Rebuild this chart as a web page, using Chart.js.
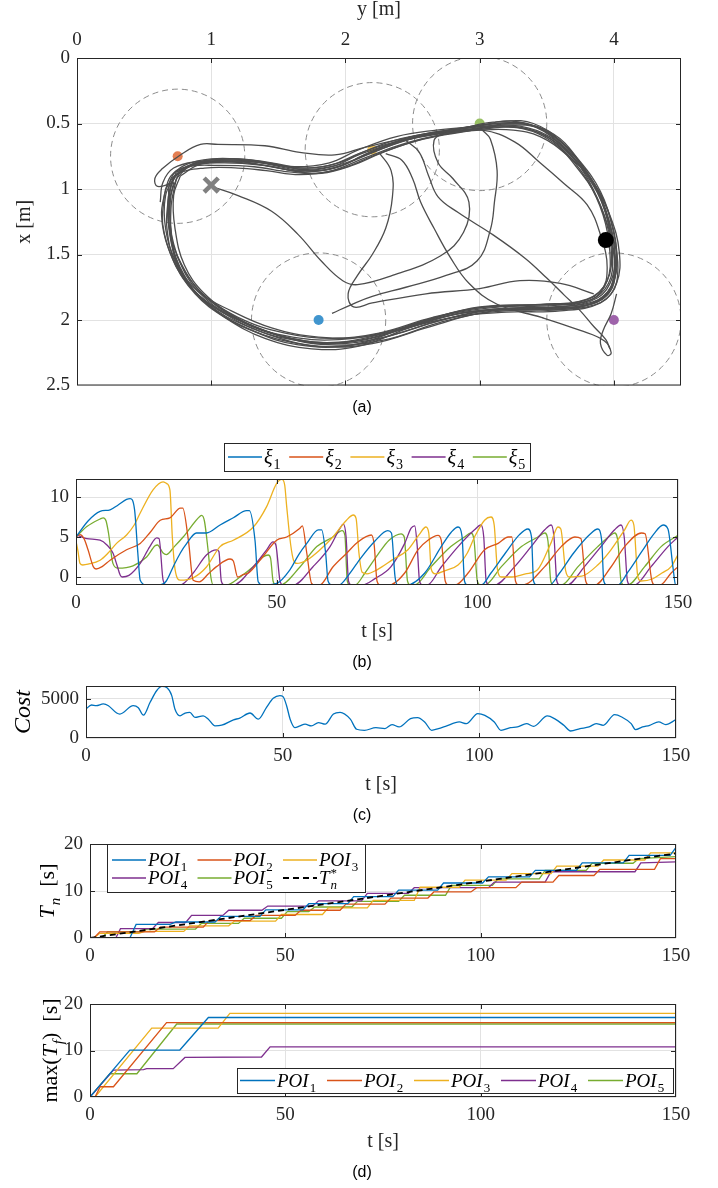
<!DOCTYPE html>
<html>
<head>
<meta charset="utf-8">
<script src="https://cdn.jsdelivr.net/npm/chart.js@4.4.1/dist/chart.umd.min.js"></script>
<style>
  body { margin: 0; background: #fff; }
  #fig { position: relative; width: 718px; height: 1188px; }
  canvas { position: absolute; left: 0; }
  .tag { position: absolute; font: 16px "Liberation Sans", Arial, sans-serif; color: #000; transform: translate(-50%, -50%); }
</style>
</head>
<body>
<div id="fig">
  <canvas id="track" width="718" height="400" style="top:0"></canvas>
  <div class="tag" style="left:362px;top:407px">(a)</div>
  <canvas id="xi" width="718" height="220" style="top:440px"></canvas>
  <div class="tag" style="left:362px;top:662px">(b)</div>
  <canvas id="cost" width="718" height="150" style="top:660px"></canvas>
  <div class="tag" style="left:362px;top:815px">(c)</div>
  <canvas id="tn" width="718" height="140" style="top:830px"></canvas>
  <canvas id="tf" width="718" height="165" style="top:990px"></canvas>
  <div class="tag" style="left:362px;top:1172px">(d)</div>
</div>
<script>
const SERIF = '"Liberation Serif", "Times New Roman", serif';
const LINE_COLORS = ['#0072BD', '#D95319', '#EDB120', '#7E2F8E', '#77AC30'];
const DOT_COLORS = ['#4095CE', '#E37E52', '#F1C458', '#9E63AA', '#99C164'];

// tick values for every axis
const arenaYTicks = [0, 1, 2, 3, 4];
const arenaXTicks = [0, 0.5, 1, 1.5, 2, 2.5];
const timeTicks = [0, 50, 100, 150];
const xiTicks = [0, 5, 10];
const costTicks = [0, 5000];
const revisitTicks = [0, 10, 20];

// ---- (a) arena: every pair is [y (m), x (m)] ----
const poiY = [1.8, 0.75, 2.2, 4.0, 3.0];
const poiX = [2.0, 0.75, 0.7, 2.0, 0.5];
const poiRadius = 0.5;
const startPoint = [1.0, 0.97];
const robotPoint = [3.94, 1.39];

const lap1 = [[0.62,1.1],[0.64,0.95],[0.72,0.84],[0.9,0.79],[1.2,0.77],[1.45,0.8],[1.7,0.84],[1.95,0.8],[2.15,0.71],[2.45,0.62],[2.75,0.56],[3.05,0.52],[3.3,0.52],[3.52,0.6],[3.7,0.76],[3.86,0.98],[3.96,1.25],[4.01,1.52],[3.98,1.74],[3.85,1.86],[3.55,1.9],[3.1,1.92],[2.7,2.0],[2.3,2.1],[1.95,2.17],[1.6,2.14],[1.25,2.02],[0.95,1.85],[0.78,1.65],[0.7,1.4],[0.68,1.15],[0.72,0.95]];
const lap2 = [[0.72,0.95],[0.6,0.98],[0.58,0.92],[0.63,0.85],[0.77,0.74],[0.92,0.66],[1.05,0.66],[1.4,0.67],[1.66,0.72],[1.92,0.74],[2.15,0.68],[2.5,0.6],[2.85,0.54],[3.1,0.49],[3.35,0.5],[3.58,0.62],[3.75,0.8],[3.9,1.05],[3.99,1.35],[4.03,1.6],[3.98,1.8],[3.8,1.9],[3.4,1.92],[3.0,1.95],[2.6,2.06],[2.2,2.18],[1.8,2.2],[1.4,2.1],[1.05,1.92],[0.82,1.72],[0.68,1.45],[0.63,1.2],[0.66,1.0]];
const lap3 = [[0.66,1.0],[0.74,0.89],[0.95,0.84],[1.2,0.84],[1.41,0.86],[1.66,0.89],[1.9,0.86],[2.15,0.76],[2.45,0.65],[2.75,0.58],[3.05,0.54],[3.28,0.53],[3.5,0.6],[3.68,0.75],[3.85,0.96],[3.95,1.22],[3.99,1.5],[3.96,1.72],[3.82,1.85],[3.5,1.88],[3.0,1.9],[2.6,2.0],[2.2,2.12],[1.8,2.13],[1.45,2.06],[1.15,1.93],[0.9,1.78],[0.74,1.56],[0.66,1.3],[0.66,1.05],[0.73,0.9]];
const lap4 = [[0.73,0.9],[0.85,0.82],[1.1,0.8],[1.4,0.82],[1.65,0.86],[1.9,0.83],[2.12,0.73],[2.4,0.64],[2.7,0.58],[3.0,0.55],[3.25,0.55],[3.45,0.6],[3.65,0.74],[3.84,0.94],[3.97,1.2],[4.04,1.48],[4.02,1.72],[3.9,1.87],[3.6,1.93],[3.2,1.94],[2.8,1.98],[2.4,2.1],[2.0,2.2],[1.6,2.17],[1.2,2.03],[0.92,1.83],[0.76,1.6],[0.7,1.32],[0.7,1.05],[0.76,0.88]];
const lap5 = [[0.76,0.88],[0.88,0.8],[1.15,0.77],[1.42,0.81],[1.68,0.86],[1.92,0.84],[2.14,0.74],[2.42,0.63],[2.72,0.57],[3.02,0.53],[3.22,0.5],[3.42,0.53],[3.62,0.68],[3.8,0.9],[3.93,1.16],[3.98,1.45],[3.95,1.7],[3.8,1.84],[3.45,1.88],[3.05,1.9],[2.65,1.98],[2.25,2.1],[1.9,2.14],[1.55,2.1],[1.2,1.98],[0.95,1.8],[0.8,1.58],[0.73,1.3],[0.72,1.05],[0.77,0.9]];
const lap6 = [[0.77,0.9],[0.92,0.81],[1.2,0.79],[1.45,0.83],[1.7,0.87],[1.95,0.83],[2.18,0.72],[2.46,0.61],[2.76,0.55],[3.04,0.51],[3.3,0.5],[3.55,0.58],[3.74,0.78],[3.9,1.02],[3.99,1.3],[4.02,1.55],[3.97,1.78],[3.83,1.88],[3.5,1.91],[3.1,1.93],[2.7,2.02],[2.3,2.15],[1.9,2.19],[1.5,2.12],[1.15,1.97],[0.9,1.78],[0.75,1.52],[0.68,1.25],[0.69,1.02],[0.74,0.87]];
const lap7 = [[0.74,0.87],[0.9,0.8],[1.18,0.78],[1.43,0.8],[1.68,0.85],[1.93,0.82],[2.16,0.74],[2.44,0.63],[2.74,0.57],[3.02,0.55],[3.26,0.64],[3.45,0.8],[3.63,0.96],[3.8,1.12],[3.9,1.35],[3.95,1.6],[3.9,1.78],[3.7,1.87],[3.3,1.89],[2.9,1.92],[2.5,2.04],[2.1,2.16],[1.7,2.16],[1.35,2.06],[1.05,1.9],[0.85,1.7],[0.72,1.42],[0.7,1.15],[0.74,0.92]];
const lap8 = [[0.74,0.92],[0.84,0.83],[1.1,0.78],[1.38,0.8],[1.62,0.83],[1.88,0.8],[2.1,0.7],[2.38,0.6],[2.68,0.55],[2.98,0.52],[3.2,0.48],[3.4,0.5],[3.6,0.63],[3.78,0.85],[3.92,1.12],[4.0,1.42],[3.99,1.67],[3.88,1.83],[3.6,1.9],[3.2,1.91],[2.8,1.96],[2.4,2.08],[2.0,2.17],[1.6,2.15],[1.25,2.04],[0.98,1.88],[0.8,1.66],[0.7,1.38],[0.68,1.1]];
const lap9 = [[0.68,1.1],[0.7,0.92],[0.8,0.82],[1.0,0.77],[1.3,0.78],[1.55,0.83],[1.8,0.86],[2.02,0.8],[2.25,0.7],[2.55,0.6],[2.85,0.54],[3.12,0.5],[3.38,0.51],[3.6,0.65],[3.78,0.88],[3.91,1.15],[3.99,1.42],[4.0,1.65],[3.93,1.82],[3.7,1.9],[3.3,1.91],[2.9,1.94],[2.5,2.05],[2.1,2.2],[1.75,2.22],[1.4,2.14],[1.1,1.98],[0.88,1.8],[0.72,1.55],[0.64,1.28],[0.65,1.05]];
const lap10 = [[0.65,1.05],[0.7,0.9],[0.82,0.83],[1.05,0.82],[1.32,0.83],[1.58,0.87],[1.82,0.88],[2.05,0.82],[2.28,0.72],[2.58,0.62],[2.9,0.56],[3.15,0.52],[3.42,0.56],[3.62,0.7],[3.8,0.93],[3.92,1.2],[3.97,1.48],[3.95,1.7],[3.84,1.84],[3.55,1.89],[3.15,1.9],[2.75,1.96],[2.35,2.08],[1.95,2.15],[1.55,2.12],[1.2,2.0],[0.92,1.82],[0.74,1.58],[0.67,1.3],[0.68,1.06]];
const lap11 = [[0.68,1.06],[0.73,0.9],[0.86,0.81],[1.12,0.79],[1.4,0.8],[1.64,0.84],[1.88,0.82],[2.1,0.73],[2.36,0.63],[2.64,0.57],[2.95,0.53],[3.2,0.51],[3.46,0.54],[3.66,0.7],[3.83,0.92],[3.96,1.18],[4.02,1.46],[4.0,1.7],[3.88,1.85],[3.62,1.92],[3.25,1.92],[2.85,1.95],[2.45,2.06],[2.05,2.19],[1.65,2.19],[1.3,2.08],[1.02,1.92],[0.83,1.72],[0.72,1.48],[0.69,1.2]];
const lap12 = [[0.69,1.2],[0.7,0.98],[0.78,0.86],[0.95,0.8],[1.25,0.8],[1.5,0.84],[1.75,0.88],[1.98,0.84],[2.2,0.75],[2.5,0.64],[2.8,0.57],[3.08,0.53],[3.32,0.54],[3.54,0.64],[3.72,0.83],[3.88,1.08],[3.97,1.36],[4.01,1.62],[3.96,1.8],[3.78,1.89],[3.45,1.92],[3.05,1.93],[2.65,2.02],[2.25,2.14],[1.85,2.18],[1.45,2.1],[1.12,1.94],[0.88,1.74],[0.74,1.5]];
const cross1 = [[1.0,0.98],[1.2,1.05],[1.45,1.17],[1.65,1.35],[1.82,1.55],[1.98,1.7],[2.09,1.73],[2.35,1.66],[2.71,1.51],[2.88,1.33],[2.92,1.1],[2.8,0.92],[2.69,0.8],[2.66,0.63],[2.75,0.56]];
const cross2 = [[3.02,0.55],[3.08,0.62],[3.13,0.86],[3.11,1.1],[3.08,1.31],[2.98,1.55],[2.75,1.66],[2.45,1.75],[2.2,1.82],[2.05,1.88],[1.9,1.95]];
const cross3 = [[2.3,0.73],[2.42,0.78],[2.5,0.92],[2.56,1.1],[2.66,1.3],[2.78,1.52],[2.92,1.72],[3.13,1.88],[3.46,1.98],[3.75,2.08],[3.93,2.16],[3.98,2.25],[3.95,2.27],[3.9,2.18],[3.92,2.08],[3.98,1.95],[4.02,1.8]];
const cross4 = [[2.45,0.63],[2.55,0.72],[2.62,0.9],[2.69,1.06],[2.84,1.18],[3.1,1.35],[3.34,1.53],[3.5,1.68],[3.63,1.81],[3.75,1.93],[3.85,2.05],[3.94,2.15],[3.97,2.22]];
const cross5 = [[2.25,0.72],[2.34,0.86],[2.35,1.06],[2.3,1.3],[2.2,1.5],[2.09,1.66],[2.02,1.8],[2.06,1.9],[2.2,1.87],[2.6,1.8],[3.0,1.76],[3.3,1.7],[3.6,1.72],[3.85,1.8]];
const trackPaths = [lap1, lap2, lap3, lap4, lap5, lap6, lap7, lap8, lap9, lap10, lap11, lap12, cross1, cross2, cross3, cross4, cross5];

// ---- (b) xi_i over time, pairs are [t (s), value] ----
const xi1 = [[0,5.0],[3,7],[6,8.2],[8.5,8.4],[10.5,9.0],[12.6,9.7],[13.5,9.8],[14.6,8.4],[15.4,3],[16,-0.4],[17.5,-1],[21,-1],[22.5,-0.5],[24.2,1.25],[26,3],[27.6,4.2],[30,5.5],[32.5,5.5],[35.9,6.5],[39.2,7.4],[42.5,8.3],[43.2,8.3],[44.6,4.6],[45.4,-0.6],[46.5,-1],[50,-0.8],[53.3,0.9],[55.5,2.8],[57.5,4.2],[60.4,5.9],[61.2,5.9],[62.2,3],[62.8,-0.5],[63.8,-1],[65.5,-1],[68,0.3],[71,2.4],[74.5,4.5],[77.7,5.8],[78.6,5.5],[79.5,0],[80.2,-1],[82.5,-1],[86.9,0.5],[91,3.8],[93.5,5.6],[95.2,6.25],[96.2,5],[96.8,-0.5],[97.5,-1],[101,-1],[103.4,0.5],[107,3],[110.5,5.3],[112.6,6.0],[113.5,5],[114,-0.5],[114.8,-1],[118,-1],[120.5,0.5],[124,3],[128,5.3],[130,6.0],[131,4.5],[131.5,-0.5],[132.3,-1],[135,-1],[137.5,0.6],[141,3.2],[144,5.4],[146.3,6.5],[147.5,6],[148.8,1],[149.4,-1],[150,-1]];
const xi2 = [[0,5.0],[1,5.3],[2,4.8],[3,3.4],[4.3,1.3],[5,1.0],[6.5,1.3],[8.5,2.1],[12.6,3.4],[16,4.2],[18.5,5.6],[21,7.1],[23.4,7.4],[26,8.6],[26.6,8.6],[28,4.6],[29.2,-0.4],[30.7,-0.6],[33,0.4],[35,1.3],[38.4,2.25],[39.2,2.0],[40.3,0],[41.6,0.3],[43,0.5],[46.5,2.5],[50,4.6],[52.5,5.0],[55.8,6.1],[56.4,6.4],[57.5,3],[58.7,-0.8],[59.5,-1],[60.7,-1],[64,1.25],[67.5,3],[70.3,4.4],[73.6,5.25],[74.3,4],[75,-0.5],[75.8,-1],[78,-1],[81.9,0.5],[85.2,3.4],[87.7,4.6],[90.2,5.2],[91,4.6],[92,-0.5],[92.8,-1],[94.5,-1],[97.7,0.5],[101.8,3.4],[105.2,4.2],[107.7,5.0],[108.6,5.0],[109.5,-0.5],[110.3,-1],[111.3,-1],[116.8,1.3],[120.9,3.8],[124.3,5.0],[125.8,4.8],[127,-0.5],[127.8,-1],[129.3,-1],[133.3,1.25],[136.7,3.8],[140.9,5.5],[141.8,5.4],[143.5,-0.5],[144.3,-1],[145.5,-1],[148.3,0.5],[150,1.3]];
const xi3 = [[0,4.5],[0.5,3.2],[1,1.7],[1.7,1.5],[3,1.6],[6,2.1],[8,3],[10.1,4.2],[12.6,5.25],[14.5,6.5],[16,8],[19.2,10.9],[21.7,11.9],[22.5,11.7],[23.4,10.9],[24,5],[24.7,0.9],[26,-0.4],[29.2,-0.1],[32.5,1.25],[35.9,3.8],[39.2,4.6],[44.2,6.25],[47.5,8.8],[50,11.7],[51.3,12.2],[52,11.5],[52.5,8.8],[53.5,4],[54.2,2.1],[55,1.7],[57.5,2.1],[60.8,3.4],[64,5],[67.4,7.1],[69.1,7.75],[69.8,7.3],[70.5,3],[71.3,0.6],[72.5,0.4],[75,0.9],[79,2.2],[82.7,3.4],[85.5,5.3],[87.2,6.25],[87.9,5.5],[88.5,1],[89.5,0.4],[92,0.8],[95.2,1.5],[97.5,3],[99.3,5],[101.8,7.1],[103.4,7.5],[104.2,6.5],[105,1],[106,0],[108.6,0],[112,0.4],[115,0.9],[118.3,4.2],[120.1,6.25],[120.8,6],[122,0.8],[123,0],[126,0.1],[130,1.5],[133.3,3.4],[136.7,5.9],[138.3,7.1],[139,6.5],[140,0],[140.8,-0.5],[143.6,-0.25],[146,0.5],[148.3,1.3],[150,2.8]];
const xi4 = [[0,5.3],[2.7,4.8],[6,4.6],[7.7,4],[9.2,3],[10.2,1.5],[11,0.25],[11.5,0],[13.2,0.2],[16,1.7],[18.4,3.8],[20.1,4.9],[20.7,4.8],[21.7,-0.4],[22.5,-1],[26,-1],[29.2,0.5],[32.5,2.75],[35,3.4],[35.6,3.2],[36.2,-0.5],[37,-1],[39.2,-1],[44.2,1.3],[47.5,3.4],[49.1,4.4],[49.8,4],[50.8,-0.4],[51.5,-1],[54.2,-1],[59,1.25],[63.3,3.8],[65.8,6.1],[66.6,6.6],[67.3,5],[67.9,-0.5],[68.6,-1],[71.3,-1],[74.5,-0.2],[78.5,1.3],[81.9,4.2],[83.5,6.1],[84.4,6.4],[85,4],[85.6,-0.5],[86.3,-1],[87.5,-1],[91,1.25],[95.2,3.8],[99.3,5.9],[100.9,6.5],[101.6,5],[102.2,-0.5],[103,-1],[104.3,-1],[109.3,1.3],[113.4,3.8],[116.8,5.9],[118.4,6.5],[119.1,5],[119.8,-0.5],[120.5,-1],[122.3,-1],[126.7,1.3],[130.8,3.8],[134.2,5.9],[135.8,6.5],[136.6,5],[137.4,-0.5],[138.1,-1],[139.1,-1],[143.3,1.3],[147.5,3.8],[150,5]];
const xi5 = [[0,5],[2.7,6.3],[6,7.25],[6.8,7.4],[7.5,7],[8.1,5.5],[9.2,1.7],[10.5,1.1],[14.2,1.4],[17.6,2.5],[19.7,3.9],[20.3,4.0],[21.7,3],[22.5,2.8],[24.5,3.8],[26.7,5],[30.9,7.6],[31.3,7.7],[32,7],[32.9,3.4],[33.6,0],[34.2,-1],[37.5,-1],[40.9,0],[44.2,1.3],[46.6,2.5],[47.9,2.75],[48.5,2.3],[49.1,-0.5],[49.8,-1],[50.8,-1],[55.8,1.25],[60,3.8],[64,5],[66.3,5.8],[67,5.2],[67.6,-0.5],[68.3,-1],[69.5,-1],[72,0.5],[75.2,2.8],[78,4.6],[81,5.4],[81.8,5],[82.6,-0.5],[83.3,-1],[84.3,-1],[88.5,1.3],[93.4,3.8],[96.8,5],[98.4,5.5],[99.2,4.5],[100,-0.5],[100.8,-1],[101.8,-1],[106,1.3],[111,3.8],[115.1,5],[116.8,5.5],[117.6,4.5],[118.3,-0.5],[119,-1],[120.9,-1],[125.1,1.3],[130,3.8],[133.3,5.25],[134.2,5.5],[135,4.5],[135.8,-0.5],[136.5,-1],[137.4,-1],[141.7,1.3],[145.8,3.8],[150,5.2]];
const xiSeries = [xi1, xi2, xi3, xi4, xi5];
const xiLabels = ['ξ_1', 'ξ_2', 'ξ_3', 'ξ_4', 'ξ_5'];

// ---- (c) cost ----
const costT = [0,1.4,2.6,4.4,5.7,7.8,8.6,12,13.3,14.6,16.3,18,19.3,20.6,21.8,22.6,23.9,25.2,26.4,27.7,29.8,31.1,32.8,34.5,37.5,39.1,41.7,43.8,45.9,47.6,49.3,50.1,51,51.9,53.1,54.4,55.7,57.3,59.1,60.8,62.9,64.6,67.2,68.8,70.8,73.7,76,77.8,79.6,82.5,84.3,86.1,87.9,89.6,91.4,94.9,96.7,99.6,101.4,103.8,105.5,107.9,109.7,112,113.8,117.3,119.1,121.5,123.2,125.6,127.9,129.7,131.5,134.4,136.2,138.6,139.7,141.5,143.3,145.6,147.4,150];
const costV = [3680,4190,4100,4320,4100,3170,3040,4100,3850,2900,4530,6030,6540,6370,5380,3680,2820,3170,3250,2610,2820,2390,1540,1620,2310,2520,3170,2390,3890,5040,5380,5250,4100,2390,1320,1540,1750,1540,1960,1750,3040,3250,2390,1110,975,1310,1190,1700,1400,2460,2590,2040,975,1190,1480,2040,1820,3100,2880,2040,975,1310,1400,1820,1480,2800,2460,1610,890,1190,1400,1820,1610,2970,2670,1820,1060,1400,1610,2040,1700,2330];

// ---- (d) revisit times ----
const poiLabels = ['POI_1', 'POI_2', 'POI_3', 'POI_4', 'POI_5'];
const tnPoi1 = [[0,0],[10.2,0],[11.8,2.9],[20.5,2.9],[22,3.4],[32,3.4],[33.5,4.6],[43.5,4.6],[45,6.0],[54.5,6.0],[56,7.3],[66,7.3],[67.5,8.8],[77.5,8.8],[79,10.2],[89,10.2],[90.5,11.7],[100.5,11.7],[102,13.0],[112.5,13.0],[114,14.4],[124.5,14.4],[126,16.0],[136.5,16.0],[138,17.6],[148.5,17.6],[150,19.3]];
const tnPoi2 = [[0,0],[1,0],[2.5,1.3],[16.5,1.3],[18,2.3],[29,2.3],[30.5,3.7],[41,3.7],[42.5,4.8],[52.5,4.8],[54,5.9],[64,5.9],[65.5,7.2],[75.5,7.2],[77,8.5],[86.5,8.5],[88,9.8],[97.5,9.8],[99,10.7],[109,10.7],[110.5,11.9],[118.5,11.9],[120,13.3],[129,13.3],[130.5,14.6],[144.5,14.6],[146,16.9],[150,16.9]];
const tnPoi3 = [[0,0],[1,0],[2.5,1.0],[12.5,1.0],[14,1.4],[24,1.4],[25.5,2.6],[35.5,2.6],[37,3.6],[47.5,3.6],[49,5.0],[59.5,5.0],[61,6.4],[71,6.4],[72.5,8.0],[83,8.0],[84.5,10.8],[94.5,10.8],[96,12.3],[106.5,12.3],[108,13.7],[118,13.7],[119.5,15.3],[130,15.3],[131.5,16.6],[142,16.6],[143.5,18.1],[150,18.1]];
const tnPoi4 = [[0,0],[6.6,0],[7.8,2.0],[16,2.0],[17.5,3.3],[24.5,3.3],[26,4.8],[34,4.8],[35.5,5.9],[44,5.9],[45.5,6.8],[57,6.8],[58.5,7.9],[69.5,7.9],[71,9.5],[81.5,9.5],[83,10.7],[102,10.7],[103.5,11.9],[116.5,11.9],[118,14.1],[139.5,14.1],[141,16.0],[150,16.2]];
const tnPoi5 = [[0,0],[3,0],[4.5,1.3],[13,1.3],[14.5,1.9],[27,1.9],[28.5,3.1],[38,3.1],[39.5,4.2],[49,4.2],[50.5,5.6],[56,5.6],[57.5,6.6],[67,6.6],[68.5,7.8],[79,7.8],[80.5,9.1],[91,9.1],[92.5,11.2],[103,11.2],[104.5,12.6],[115,12.6],[116.5,14.4],[127,14.4],[128.5,15.9],[139,15.9],[140.5,16.9],[150,17.3]];
const tnTarget = [[0,0],[150,18]];
const tfPoi1 = [[0,0],[10.2,10.1],[23,10.1],[30.3,17.1],[150,17.1]];
const tfPoi2 = [[0,0],[1.3,0],[2.6,2.2],[6,2.2],[19.6,16],[150,16]];
const tfPoi3 = [[0,0],[1.3,0],[15.8,14.8],[32.8,14.8],[35.8,18],[150,18]];
const tfPoi4 = [[0,0],[6,5.8],[13.7,5.9],[14.5,6.1],[21.3,6.1],[24.3,8.5],[43.9,8.6],[46.1,10.8],[150,10.8]];
const tfPoi5 = [[0,0],[5.1,5.0],[12,5.0],[22.2,15.7],[150,15.7]];

// ---- text with sub/superscripts ----
function runsOf(label) {
  const m = label.match(/^([^_^]*)(?:_([^^]*))?(?:\^(.*))?$/);
  const runs = [{t: m[1], it: true}];
  if (m[2]) runs.push({t: m[2], it: /[a-z]/i.test(m[2]), sub: true});
  if (m[3]) runs.push({t: m[3], sup: true, stack: !!m[2]});
  return runs;
}
function runFont(r, size) {
  const s = (r.sub || r.sup) ? Math.round(size * 0.7) : size;
  return (r.it ? 'italic ' : '') + s + 'px ' + SERIF;
}
function drawRuns(ctx, runs, x, y, size, paint = true) {
  let cx = x, prev = x;
  for (const r of runs) {
    ctx.font = runFont(r, size);
    const w = ctx.measureText(r.t).width;
    const sx = r.stack ? prev : cx + (r.sub || r.sup ? 1 : 0);
    const dy = r.sub ? size * 0.25 : r.sup ? -size * 0.4 : 0;
    if (paint) ctx.fillText(r.t, sx, y + dy);
    prev = sx;
    cx = Math.max(cx, sx + w);
  }
  return cx - x;
}

// ---- plugins ----
const frame = {
  id: 'frame',
  afterDatasetsDraw(chart, args, o) {
    const {ctx, chartArea: a} = chart;
    const len = o.tick || 5;
    ctx.save();
    ctx.strokeStyle = '#262626';
    ctx.lineWidth = 1;
    ctx.beginPath();
    for (const s of Object.values(chart.scales)) {
      for (const t of s.ticks) {
        const p = Math.round(s.getPixelForValue(t.value)) + 0.5;
        if (s.isHorizontal()) {
          if (p <= a.left + 2 || p >= a.right - 2) continue;
          ctx.moveTo(p, a.top); ctx.lineTo(p, a.top + len);
          ctx.moveTo(p, a.bottom); ctx.lineTo(p, a.bottom - len);
        } else {
          if (p <= a.top + 2 || p >= a.bottom - 2) continue;
          ctx.moveTo(a.left, p); ctx.lineTo(a.left + len, p);
          ctx.moveTo(a.right, p); ctx.lineTo(a.right - len, p);
        }
      }
    }
    ctx.stroke();
    ctx.strokeRect(a.left + 0.5, a.top + 0.5, a.width - 1, a.height - 1);
    ctx.restore();
  }
};

const zones = {
  id: 'zones',
  beforeDatasetsDraw(chart, args, o) {
    if (!o.centers) return;
    const {ctx, chartArea: a, scales: {x, y}} = chart;
    ctx.save();
    ctx.beginPath();
    ctx.rect(a.left, a.top, a.width, a.height);
    ctx.clip();
    ctx.strokeStyle = '#8c8c8c';
    ctx.lineWidth = 1;
    ctx.setLineDash([6, 4]);
    const r = x.getPixelForValue(o.radius) - x.getPixelForValue(0);
    for (const c of o.centers) {
      ctx.beginPath();
      ctx.arc(x.getPixelForValue(c[0]), y.getPixelForValue(c[1]), r, 0, Math.PI * 2);
      ctx.stroke();
    }
    ctx.restore();
  }
};

const boxLegend = {
  id: 'boxLegend',
  afterDraw(chart, args, o) {
    if (!o.cols) return;
    const ctx = chart.ctx;
    ctx.save();
    ctx.fillStyle = '#fff';
    ctx.fillRect(o.x, o.y, o.w, o.h);
    ctx.strokeStyle = '#262626';
    ctx.lineWidth = 1;
    ctx.strokeRect(o.x + 0.5, o.y + 0.5, o.w, o.h);
    chart.data.datasets.forEach((ds, i) => {
      const col = i % o.cols, row = Math.floor(i / o.cols);
      const sx = o.x + o.pad + col * o.colW;
      const sy = o.y + o.rowY[row];
      ctx.strokeStyle = ds.borderColor;
      ctx.lineWidth = ds.borderWidth;
      ctx.setLineDash(ds.borderDash || []);
      ctx.beginPath();
      ctx.moveTo(sx, sy);
      ctx.lineTo(sx + o.sample, sy);
      ctx.stroke();
      ctx.setLineDash([]);
      ctx.fillStyle = '#000';
      ctx.textBaseline = 'alphabetic';
      drawRuns(ctx, runsOf(ds.label), sx + o.sample + 2, sy + o.size * 0.33, o.size);
    });
    ctx.restore();
  }
};

const sideTitle = {
  id: 'sideTitle',
  afterDraw(chart, args, o) {
    if (!o.runs) return;
    const ctx = chart.ctx, a = chart.chartArea;
    const runs = Array.from(o.runs, r => ({t: r.t, it: r.it, sub: r.sub}));
    const w = drawRuns(ctx, runs, 0, 0, o.size, false);
    ctx.save();
    ctx.translate(o.x, (a.top + a.bottom) / 2);
    ctx.rotate(-Math.PI / 2);
    ctx.fillStyle = '#000';
    ctx.textBaseline = 'alphabetic';
    drawRuns(ctx, runs, -w / 2, o.size * 0.33, o.size);
    ctx.restore();
  }
};

Chart.register(frame, zones, boxLegend, sideTitle);
Chart.defaults.animation = false;
Chart.defaults.events = [];
Chart.defaults.plugins.legend.display = false;
Chart.defaults.plugins.tooltip.enabled = false;

// fixed axis thickness so that plot boxes line up across panels
function fixSize(size) {
  return s => {
    if (s.isHorizontal()) s.height = size; else s.width = size;
    s.paddingLeft = s.paddingRight = s.paddingTop = s.paddingBottom = 0;
  };
}
const tickFont = {family: SERIF, size: 19};
const titleFont = {family: SERIF, size: 20};
const GRID = '#e2e2e2';

function axis(min, max, values, size, extra) {
  return Object.assign({
    type: 'linear', min: min, max: max,
    afterFit: fixSize(size),
    afterBuildTicks: s => { s.ticks = values.map(v => ({value: v})); },
    grid: {color: GRID, drawTicks: false},
    border: {display: false},
    ticks: {font: tickFont, color: '#262626', padding: 7, maxRotation: 0, autoSkip: false, callback: v => String(v)}
  }, extra);
}

// (a) arena with trajectory
new Chart(document.getElementById('track'), {
  type: 'scatter',
  data: {
    datasets: [
      ...trackPaths.map(p => ({data: p, showLine: true, borderColor: '#4d4d4d', borderWidth: 1.3, pointRadius: 0, tension: 0.4, order: 2})),
      {data: poiY.map((y, i) => [y, poiX[i]]), pointRadius: 5, pointBackgroundColor: DOT_COLORS, pointBorderWidth: 0, order: 5},
      {data: [startPoint], pointStyle: 'crossRot', pointRadius: 10, pointBorderWidth: 4.5, pointBorderColor: '#808080', order: 0},
      {data: [robotPoint], pointRadius: 8, pointBackgroundColor: '#000', pointBorderWidth: 0, order: 0}
    ]
  },
  options: {
    responsive: false,
    layout: {padding: {left: 0, right: 37, top: 0, bottom: 7}},
    scales: {
      x: axis(0, 4.5, arenaYTicks, 58, {position: 'top', title: {display: true, text: 'y [m]', font: titleFont, color: '#262626', padding: {top: -2, bottom: 0}}}),
      y: axis(0, 2.5, arenaXTicks, 77, {reverse: true, title: {display: true, text: 'x [m]', font: titleFont, color: '#262626', padding: {top: 13, bottom: 0}}})
    },
    plugins: {
      zones: {centers: poiY.map((y, i) => [y, poiX[i]]), radius: poiRadius}
    }
  }
});

// (b) xi
new Chart(document.getElementById('xi'), {
  type: 'line',
  data: {
    datasets: xiSeries.map((s, i) => ({label: xiLabels[i], data: s, borderColor: LINE_COLORS[i], borderWidth: 1.3, pointRadius: 0, cubicInterpolationMode: 'monotone'}))
  },
  options: {
    responsive: false,
    layout: {padding: {left: 0, right: 40, top: 39, bottom: 0}},
    scales: {
      x: axis(0, 150, timeTicks, 75, {title: {display: true, text: 't [s]', font: titleFont, color: '#262626', padding: {top: 0, bottom: 16}}}),
      y: axis(-1, 12.25, xiTicks, 76)
    },
    plugins: {
      boxLegend: {x: 224, y: 3, w: 306, h: 28, cols: 5, colW: 61.2, pad: 4, sample: 34, rowY: [14], size: 20}
    }
  }
});

// (c) cost
new Chart(document.getElementById('cost'), {
  type: 'line',
  data: {
    datasets: [{label: 'Cost', data: costT.map((t, i) => [t, costV[i]]), borderColor: LINE_COLORS[0], borderWidth: 1.3, pointRadius: 0, cubicInterpolationMode: 'monotone'}]
  },
  options: {
    responsive: false,
    layout: {padding: {left: 0, right: 42, top: 26, bottom: 0}},
    scales: {
      x: axis(0, 150, timeTicks, 72, {title: {display: true, text: 't [s]', font: titleFont, color: '#262626', padding: {top: 0, bottom: 13}}}),
      y: axis(0, 6600, costTicks, 86)
    },
    plugins: {
      sideTitle: {x: 22, size: 24, runs: [{t: 'Cost', it: true}]}
    }
  }
});

// (d) top: mean revisit time per POI
const tnSets = [tnPoi1, tnPoi2, tnPoi3, tnPoi4, tnPoi5].map((s, i) => ({label: poiLabels[i], data: s, borderColor: LINE_COLORS[i], borderWidth: 1.3, pointRadius: 0, tension: 0}));
tnSets.push({label: 'T_n^*', data: tnTarget, borderColor: '#000', borderWidth: 1.8, borderDash: [6, 4], pointRadius: 0, order: -1});
new Chart(document.getElementById('tn'), {
  type: 'line',
  data: {datasets: tnSets},
  options: {
    responsive: false,
    layout: {padding: {left: 0, right: 42, top: 14, bottom: 0}},
    scales: {
      x: axis(0, 150, timeTicks, 32),
      y: axis(0, 20, revisitTicks, 90)
    },
    plugins: {
      boxLegend: {x: 107, y: 14, w: 258, h: 48, cols: 3, colW: 85.5, pad: 5, sample: 34, rowY: [16, 34], size: 19},
      sideTitle: {x: 47, size: 22, runs: [{t: 'T', it: true}, {t: 'n', it: true, sub: true}, {t: '  [s]'}]}
    }
  }
});

// (d) bottom: largest revisit time per POI
new Chart(document.getElementById('tf'), {
  type: 'line',
  data: {
    datasets: [tfPoi1, tfPoi2, tfPoi3, tfPoi4, tfPoi5].map((s, i) => ({label: poiLabels[i], data: s, borderColor: LINE_COLORS[i], borderWidth: 1.3, pointRadius: 0, tension: 0}))
  },
  options: {
    responsive: false,
    layout: {padding: {left: 0, right: 42, top: 14, bottom: 0}},
    scales: {
      x: axis(0, 150, timeTicks, 58, {title: {display: true, text: 't [s]', font: titleFont, color: '#262626', padding: {top: 0, bottom: 1}}}),
      y: axis(0, 20, revisitTicks, 90)
    },
    plugins: {
      boxLegend: {x: 237, y: 78, w: 436, h: 25, cols: 5, colW: 87, pad: 3, sample: 35, rowY: [12.5], size: 19},
      sideTitle: {x: 50, size: 22, runs: [{t: 'max('}, {t: 'T', it: true}, {t: 'f', it: true, sub: true}, {t: ')  [s]'}]}
    }
  }
});
</script>
</body>
</html>
